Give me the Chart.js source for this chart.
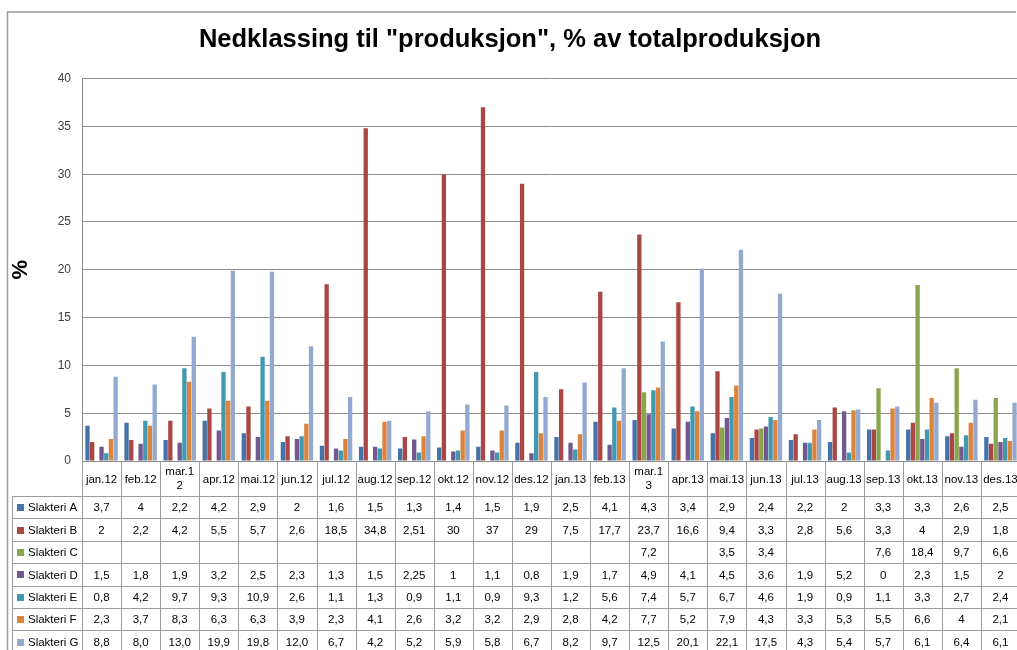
<!DOCTYPE html>
<html>
<head>
<meta charset="utf-8">
<script src="https://cdn.jsdelivr.net/npm/chart.js@4.4.1/dist/chart.umd.min.js"></script>
<style>
  html, body { margin: 0; padding: 0; background: #fff; overflow: hidden; }
  #wrap { position: relative; width: 1024px; height: 650px; }
</style>
</head>
<body>
<div id="wrap"><canvas id="chart" width="1024" height="650"></canvas></div>
<script>
const categories = ['jan.12', 'feb.12', ['mar.1', '2'], 'apr.12', 'mai.12', 'jun.12', 'jul.12', 'aug.12',
  'sep.12', 'okt.12', 'nov.12', 'des.12', 'jan.13', 'feb.13', ['mar.1', '3'], 'apr.13', 'mai.13',
  'jun.13', 'jul.13', 'aug.13', 'sep.13', 'okt.13', 'nov.13', 'des.13'];

const slakteriA = [3.7, 4, 2.2, 4.2, 2.9, 2, 1.6, 1.5, 1.3, 1.4, 1.5, 1.9, 2.5, 4.1, 4.3, 3.4, 2.9, 2.4, 2.2, 2, 3.3, 3.3, 2.6, 2.5];
const slakteriB = [2, 2.2, 4.2, 5.5, 5.7, 2.6, 18.5, 34.8, 2.51, 30, 37, 29, 7.5, 17.7, 23.7, 16.6, 9.4, 3.3, 2.8, 5.6, 3.3, 4, 2.9, 1.8];
const slakteriC = [null, null, null, null, null, null, null, null, null, null, null, null, null, null, 7.2, null, 3.5, 3.4, null, null, 7.6, 18.4, 9.7, 6.6];
const slakteriD = [1.5, 1.8, 1.9, 3.2, 2.5, 2.3, 1.3, 1.5, 2.25, 1, 1.1, 0.8, 1.9, 1.7, 4.9, 4.1, 4.5, 3.6, 1.9, 5.2, 0, 2.3, 1.5, 2];
const slakteriE = [0.8, 4.2, 9.7, 9.3, 10.9, 2.6, 1.1, 1.3, 0.9, 1.1, 0.9, 9.3, 1.2, 5.6, 7.4, 5.7, 6.7, 4.6, 1.9, 0.9, 1.1, 3.3, 2.7, 2.4];
const slakteriF = [2.3, 3.7, 8.3, 6.3, 6.3, 3.9, 2.3, 4.1, 2.6, 3.2, 3.2, 2.9, 2.8, 4.2, 7.7, 5.2, 7.9, 4.3, 3.3, 5.3, 5.5, 6.6, 4, 2.1];
const slakteriG = [8.8, 8.0, 13.0, 19.9, 19.8, 12.0, 6.7, 4.2, 5.2, 5.9, 5.8, 6.7, 8.2, 9.7, 12.5, 20.1, 22.1, 17.5, 4.3, 5.4, 5.7, 6.1, 6.4, 6.1];

const yTicks = [0, 5, 10, 15, 20, 25, 30, 35, 40];

const series = [
  { label: 'Slakteri A', data: slakteriA, color: '#4572a7', decimals: null },
  { label: 'Slakteri B', data: slakteriB, color: '#aa4643', decimals: null },
  { label: 'Slakteri C', data: slakteriC, color: '#89a54e', decimals: null },
  { label: 'Slakteri D', data: slakteriD, color: '#71588f', decimals: null },
  { label: 'Slakteri E', data: slakteriE, color: '#4198af', decimals: null },
  { label: 'Slakteri F', data: slakteriF, color: '#db843d', decimals: null },
  { label: 'Slakteri G', data: slakteriG, color: '#93a9cf', decimals: 1 }
];

const fontFamily = '"Liberation Sans", Arial, sans-serif';
const tableFont = '11.5px ' + fontFamily;

const fmt = (v, decimals) => {
  if (v === null || v === undefined) return '';
  const s = decimals !== null ? v.toFixed(decimals) : String(v);
  return s.replace('.', ',');
};

// Excel-style data table under the plot, columns follow the x scale
const dataTable = {
  id: 'dataTable',
  beforeDraw(chart) {
    // chart area frame (top and left edges, the rest is cropped)
    const ctx = chart.ctx;
    ctx.save();
    ctx.strokeStyle = '#9a9a9a';
    ctx.lineWidth = 1.5;
    ctx.beginPath();
    ctx.moveTo(7.5, chart.height);
    ctx.lineTo(7.5, 12);
    ctx.lineTo(1016, 12);
    ctx.stroke();
    ctx.restore();
  },
  afterDraw(chart) {
    const { ctx, chartArea } = chart;
    const x = chart.scales.x;
    const n = categories.length;
    const colW = (chartArea.right - chartArea.left) / n;
    const top = chartArea.bottom;
    const headH = 35;
    const rowH = 22.4;
    const rowLeft = 12;
    const right = chartArea.right;

    ctx.save();
    ctx.strokeStyle = '#9c9c9c';
    ctx.lineWidth = 1;
    ctx.beginPath();
    // vertical lines
    for (let i = 0; i <= n; i++) {
      const px = Math.round(chartArea.left + i * colW) + 0.5;
      ctx.moveTo(px, top);
      ctx.lineTo(px, chart.height);
    }
    ctx.moveTo(rowLeft + 0.5, top + headH);
    ctx.lineTo(rowLeft + 0.5, chart.height);
    // horizontal lines
    for (let r = 0; r <= series.length; r++) {
      const py = Math.round(top + headH + r * rowH) + 0.5;
      ctx.moveTo(rowLeft, py);
      ctx.lineTo(right, py);
    }
    ctx.stroke();

    ctx.fillStyle = '#000';
    ctx.font = tableFont;
    ctx.textAlign = 'center';
    ctx.textBaseline = 'middle';
    // header
    categories.forEach((c, i) => {
      const cx = x.getPixelForValue(i);
      if (Array.isArray(c)) {
        ctx.fillText(c[0], cx, top + 11);
        ctx.fillText(c[1], cx, top + 25);
      } else {
        ctx.fillText(c, cx, top + headH / 2 + 1);
      }
    });
    // rows
    series.forEach((s, r) => {
      const cy = top + headH + r * rowH + rowH / 2 + 1;
      ctx.fillStyle = s.color;
      ctx.fillRect(17, Math.round(cy - 4), 7, 7);
      ctx.fillStyle = '#000';
      ctx.textAlign = 'left';
      ctx.fillText(s.label, 28, cy);
      ctx.textAlign = 'center';
      s.data.forEach((v, i) => {
        ctx.fillText(fmt(v, s.decimals), x.getPixelForValue(i), cy);
      });
    });
    ctx.restore();
  }
};

new Chart(document.getElementById('chart'), {
  type: 'bar',
  data: {
    labels: categories,
    datasets: series.map(s => ({
      label: s.label,
      data: s.data,
      backgroundColor: s.color,
      borderWidth: 0,
      categoryPercentage: 0.84,
      barPercentage: 0.92
    }))
  },
  options: {
    responsive: false,
    animation: false,
    layout: { padding: { left: 0, right: 4, top: 0, bottom: 189 } },
    plugins: {
      legend: { display: false },
      tooltip: { enabled: false },
      title: {
        display: true,
        text: 'Nedklassing til "produksjon", % av totalproduksjon',
        color: '#000',
        font: { family: fontFamily, size: 25.5, weight: 'bold' },
        padding: { top: 25, bottom: 23 }
      }
    },
    scales: {
      x: {
        grid: { display: false, drawTicks: false },
        border: { display: true, color: '#8a8a8a' },
        ticks: { display: false },
        afterFit: (scale) => { scale.height = 0; }
      },
      y: {
        min: 0,
        max: 40,
        afterBuildTicks: (scale) => { scale.ticks = yTicks.map(v => ({ value: v })); },
        afterFit: (scale) => { scale.width = 82; },
        grid: { color: '#8e8e8e', drawTicks: false },
        border: { display: true, color: '#8a8a8a' },
        ticks: {
          padding: 11,
          color: '#404040',
          font: { family: fontFamily, size: 12 }
        },
        title: {
          display: true,
          text: '%',
          color: '#000',
          font: { family: fontFamily, size: 22, weight: 'bold' },
          padding: { top: 8, bottom: 0 }
        }
      }
    }
  },
  plugins: [dataTable]
});
</script>
</body>
</html>
